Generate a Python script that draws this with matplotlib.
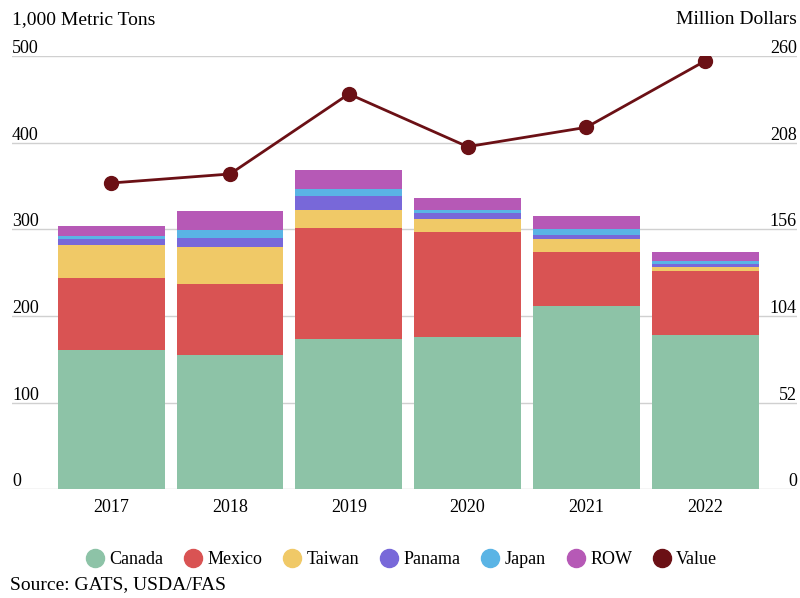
import matplotlib.pyplot as plt
from matplotlib.lines import Line2D
import numpy as np

plt.rcParams['font.family'] = ['Liberation Serif', 'DejaVu Serif']

years = ['2017', '2018', '2019', '2020', '2021', '2022']
canada = [161, 155, 173, 176, 211, 178.5]
mexico = [82.5, 82.5, 128.5, 120.5, 63, 74]
taiwan = [38.5, 42.5, 20.5, 15.5, 14.5, 4]
panama = [6.5, 10.5, 16, 7, 5.5, 4]
japan = [3.5, 9, 8, 3, 6.5, 2.5]
row = [12, 21.5, 22, 14.5, 15, 11]
value = [183.8, 189.2, 237.2, 205.6, 217.2, 257]

left_ticks = [0, 100, 200, 300, 400, 500]
right_ticks = [0, 52, 104, 156, 208, 260]

series = [('Canada', canada, '#8dc3a7'),
          ('Mexico', mexico, '#d95353'),
          ('Taiwan', taiwan, '#f0c967'),
          ('Panama', panama, '#7868d9'),
          ('Japan', japan, '#5ab4e5'),
          ('ROW', row, '#b659b6')]
line_color = '#6b1015'

fig = plt.figure(figsize=(8, 5.98), dpi=100)
ax = fig.add_axes([0.015, 0.1816, 0.981, 0.7248])
x = np.arange(len(years))

bottom = np.zeros(len(years))
for name, vals, col in series:
    ax.bar(x, vals, 0.9, bottom=bottom, color=col, linewidth=0, zorder=2)
    bottom += np.array(vals)

ax.set_xlim(-0.836, 5.772)
ax.set_ylim(0, 500)
ax.set_yticks(left_ticks)
ax.yaxis.grid(True, color='#d0d0d0', linewidth=1)
ax.set_axisbelow(True)
ax.tick_params(axis='both', which='both', length=0, labelleft=False, labelbottom=False)
for s in ax.spines.values():
    s.set_visible(False)

# tick labels sit just above each gridline, inside the plot
for t in left_ticks:
    ax.text(0.0, t - 1, str(t), transform=ax.get_yaxis_transform(),
            ha='left', va='bottom', fontsize=13)
for t, lab in zip(left_ticks, right_ticks):
    ax.text(1.0, t - 1, str(lab), transform=ax.get_yaxis_transform(),
            ha='right', va='bottom', fontsize=13)
for i, y in enumerate(years):
    ax.text(i, -21, y, ha='center', va='center', fontsize=13)

ax2 = ax.twinx()
ax2.set_ylim(0, 260)
ax2.plot(x, value, color=line_color, linewidth=2, marker='o', markersize=10, zorder=3)
ax2.tick_params(axis='both', which='both', length=0, labelright=False)
for s in ax2.spines.values():
    s.set_visible(False)

fig.text(0.015, 0.967, '1,000 Metric Tons', ha='left', va='center', fontsize=14)
fig.text(0.996, 0.967, 'Million Dollars', ha='right', va='center', fontsize=14)

handles = [Line2D([], [], linestyle='none', marker='o', markersize=13,
                  color=c, label=n) for n, _, c in series]
handles.append(Line2D([], [], linestyle='none', marker='o', markersize=13,
                      color=line_color, label='Value'))
fig.legend(handles=handles, loc='center', bbox_to_anchor=(0.502, 0.0636),
           ncol=7, frameon=False, fontsize=13, handletextpad=0.3,
           columnspacing=1.15, handlelength=1.0)

fig.text(0.0125, 0.022, 'Source: GATS, USDA/FAS', ha='left', va='center', fontsize=14)

fig.savefig('out.png', dpi=100)
